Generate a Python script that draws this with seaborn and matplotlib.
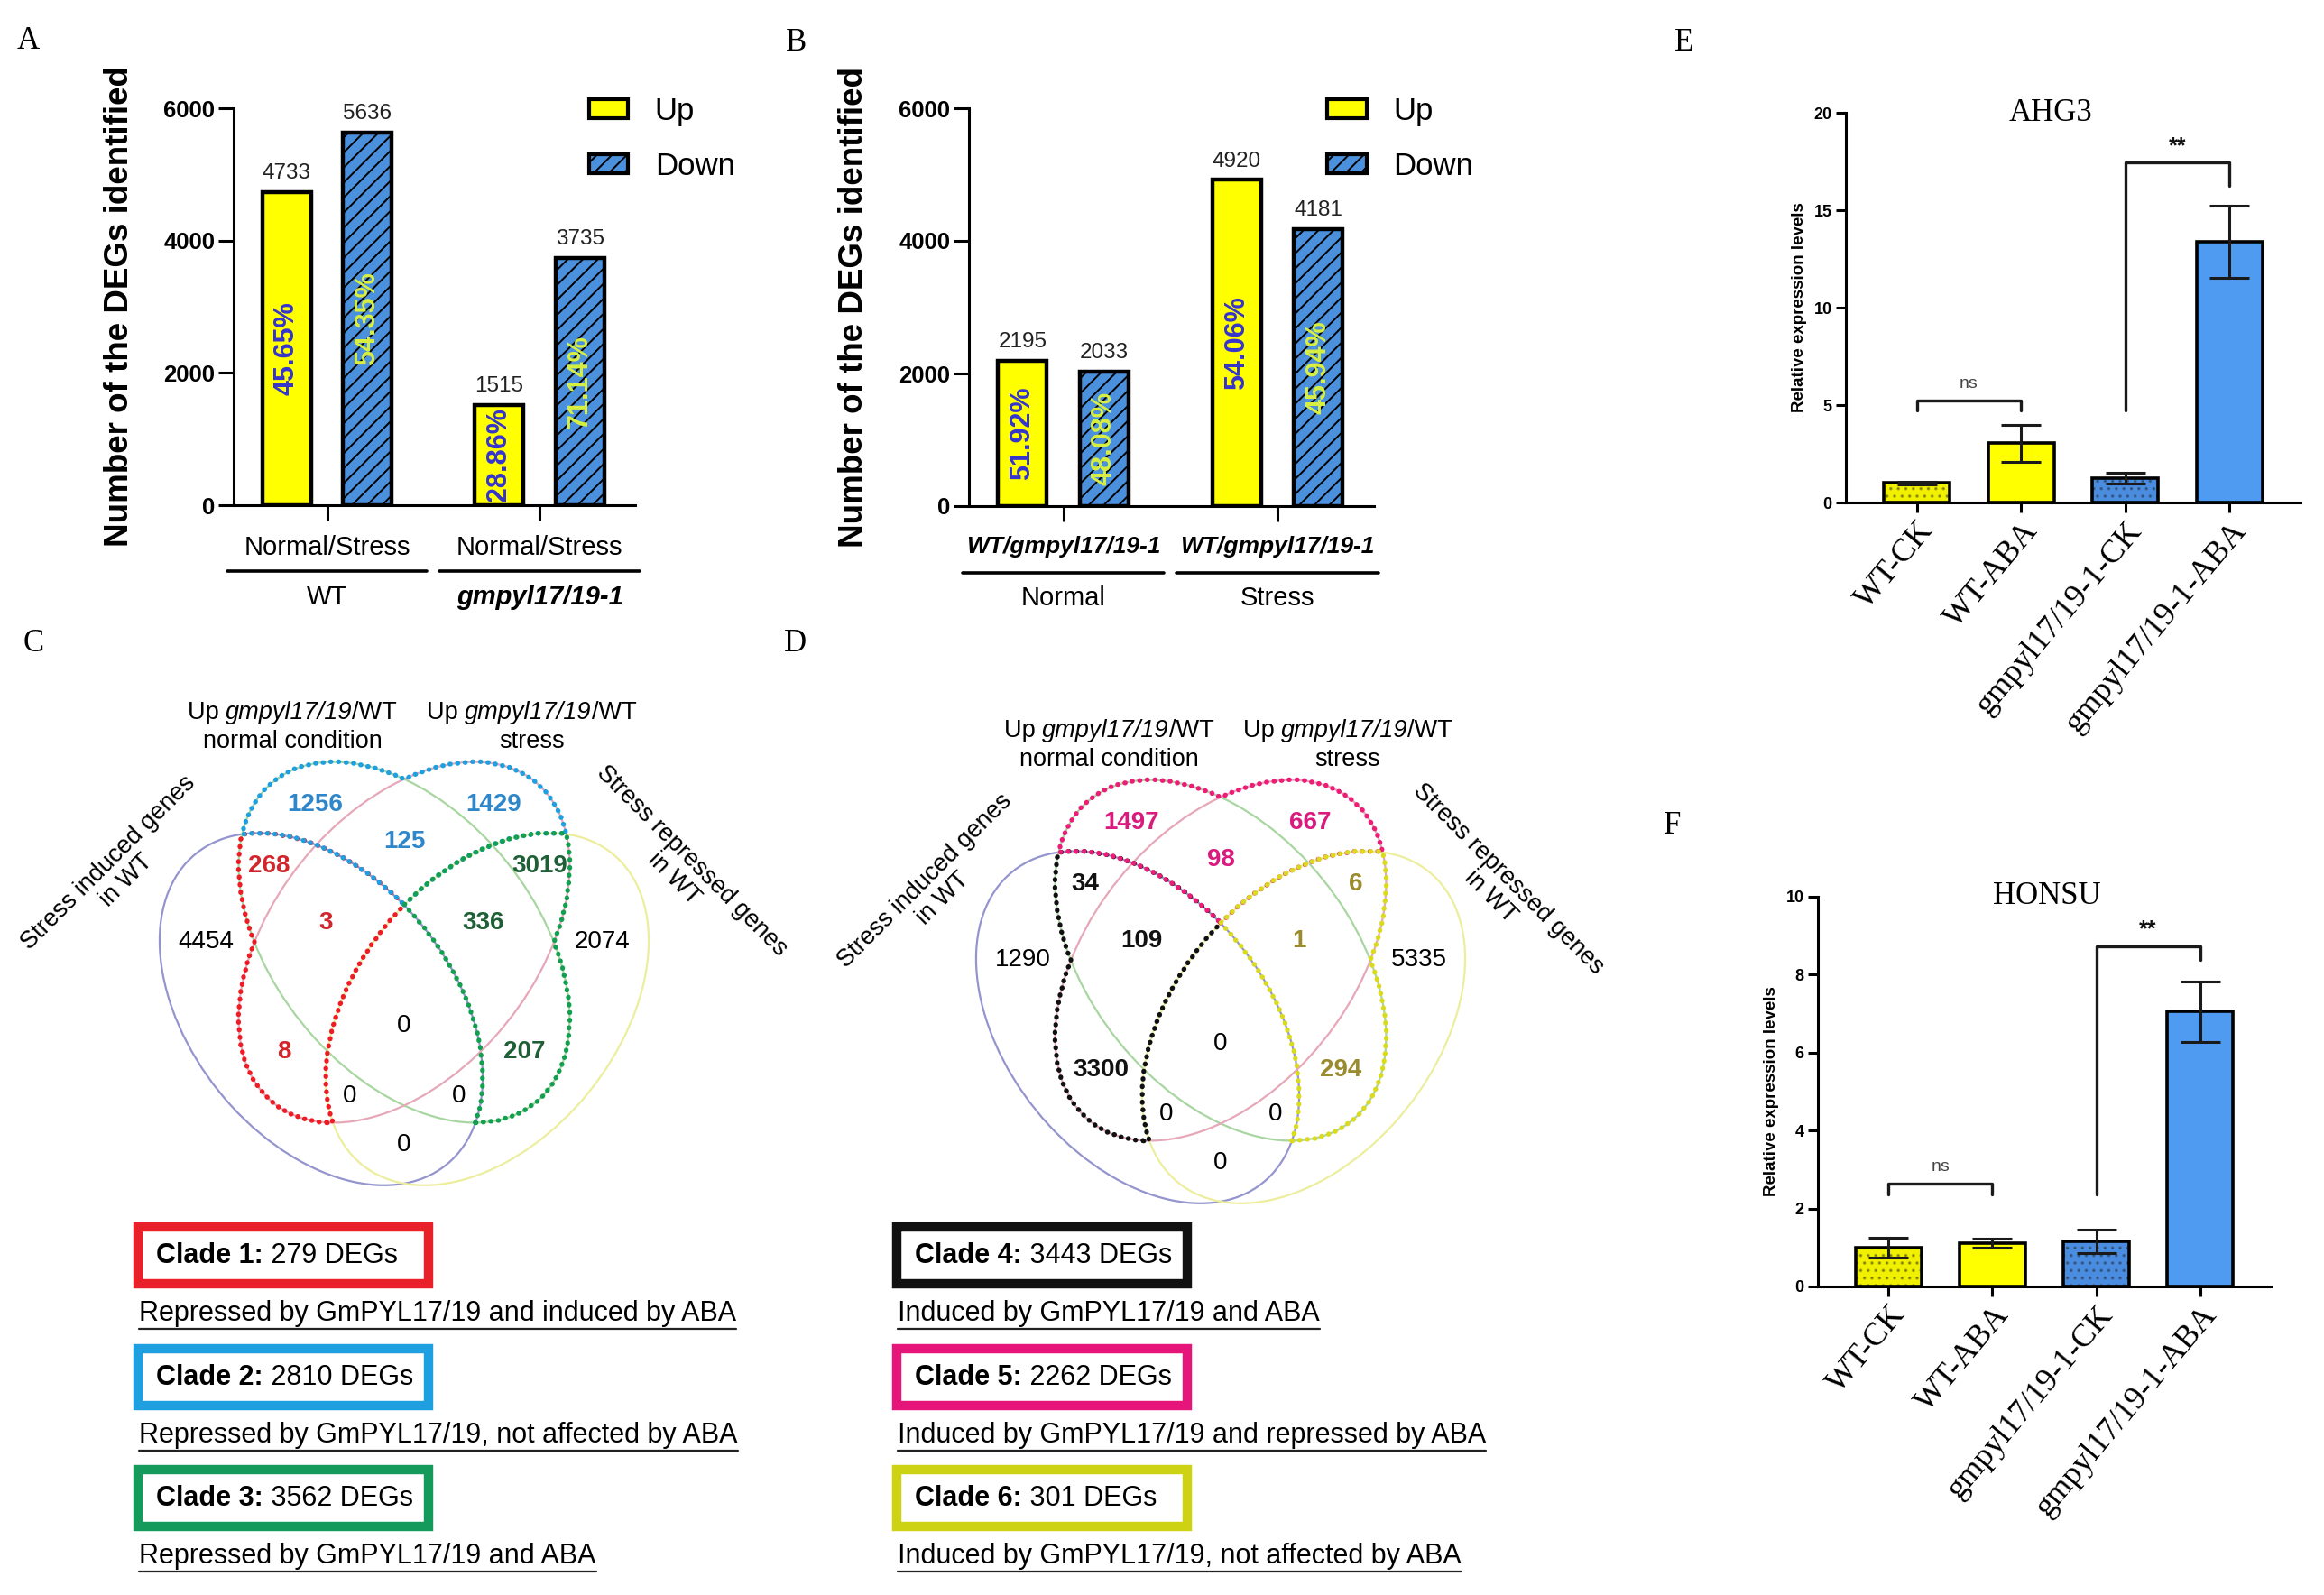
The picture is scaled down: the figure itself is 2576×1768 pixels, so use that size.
import numpy as np
import pandas as pd
import seaborn as sns
import matplotlib.pyplot as plt
from matplotlib.patches import Ellipse, Patch, Rectangle
from matplotlib.lines import Line2D

sns.set_theme(style="white", rc={"axes.edgecolor": "black", "axes.linewidth": 2.2,
                                  "xtick.color": "black", "ytick.color": "black",
                                  "text.color": "black", "axes.labelcolor": "black",
                                  "hatch.linewidth": 1.4})
plt.rcParams["font.family"] = ["Liberation Sans", "DejaVu Sans"]
SERIF = ["Liberation Serif", "DejaVu Serif"]

# ---- panels A / B : number of DEGs ----
directions = ["Up", "Down"]
genotypes = ["WT", "gmpyl17/19-1"]
geno_up = [4733, 1515]
geno_down = [5636, 3735]
treatments = ["Normal", "Stress"]
treat_up = [2195, 4920]
treat_down = [2033, 4181]

# ---- panels E / F : qRT-PCR ----
samples = ["WT-CK", "WT-ABA", "gmpyl17/19-1-CK", "gmpyl17/19-1-ABA"]
ahg3_mean = [1.0, 3.05, 1.25, 13.4]
ahg3_sd = [0.07, 0.95, 0.28, 1.85]
honsu_mean = [1.0, 1.11, 1.15, 7.05]
honsu_sd = [0.25, 0.12, 0.30, 0.78]
# label, left bar, right bar, bracket top, left leg end, right leg end
ahg3_sig = [("ns", 0, 1, 5.25, 4.7, 4.7), ("**", 2, 3, 17.45, 4.7, 16.25)]
honsu_sig = [("ns", 0, 1, 2.65, 2.35, 2.35), ("**", 2, 3, 8.73, 2.35, 8.39)]

# ---- panels C / D : four-set Venn ----
side_labels = ["Stress induced genes\nin WT", "Stress repressed genes\nin WT"]
top_labels = [[("Up ", "normal"), ("gmpyl17/19", "italic"), ("/WT", "normal")],
              "normal condition", "stress"]
regions = ["A", "B", "C", "D", "AB", "BC", "CD", "AD", "AC", "BD",
           "ABC", "BCD", "ACD", "ABD", "ABCD"]
venn_c = [4454, 1256, 1429, 2074, 268, 125, 3019, 0, 8, 207, 3, 336, 0, 0, 0]
venn_d = [1290, 1497, 667, 5335, 34, 98, 6, 0, 3300, 294, 109, 1, 0, 0, 0]
clade_regions = [["AB", "ABC", "AC"], ["B", "BC", "C"], ["CD", "BCD", "BD"]]
clade_names_c = ["Clade 1", "Clade 2", "Clade 3"]
clade_names_d = ["Clade 4", "Clade 5", "Clade 6"]
clade_notes_c = ["Repressed by GmPYL17/19 and induced by ABA",
                 "Repressed by GmPYL17/19, not affected by ABA",
                 "Repressed by GmPYL17/19 and ABA"]
clade_notes_d = ["Induced by GmPYL17/19 and ABA",
                 "Induced by GmPYL17/19 and repressed by ABA",
                 "Induced by GmPYL17/19, not affected by ABA"]

UP_C, DOWN_C = "#FFFF00", "#4A90DC"
dir_palette = {"Up": UP_C, "Down": DOWN_C}
qpcr_palette = dict(zip(samples, ["#F0F000", "#FFFF00", "#4A8DE0", "#4F9BF2"]))
qpcr_hatch = ["..", "", "..", ""]
box_cols_c = ["#E8202A", "#1E9FE0", "#149A5B"]
box_cols_d = ["#111111", "#E5157A", "#CDD212"]
line_cols_c = ["#EE1C24", "#1EA0E0", "#12A050"]
line_cols_d = ["#111111", "#EC1C77", "#DADA1E"]
num_cols_c = ["#D0262C", "#2F86C8", "#1F5F36"]
num_cols_d = ["#111111", "#D81B7C", "#9A8B2E"]

W, H = 2576, 1768
fig = plt.figure(figsize=(W / 100, H / 100), dpi=100)
renderer = fig.canvas.get_renderer()


def rect(l, t, r, b):
    return [l / W, 1 - b / H, (r - l) / W, (b - t) / H]


def deg_panel(ax, groups, up, down, tick_text, tick_kw, group_kw):
    df = pd.DataFrame({"group": groups + groups,
                       "direction": ["Up"] * len(groups) + ["Down"] * len(groups),
                       "count": up + down})
    sns.barplot(data=df, x="group", y="count", hue="direction", hue_order=directions,
                order=groups, palette=dir_palette, width=0.76, gap=0.4, saturation=1,
                edgecolor="black", linewidth=3.2, legend=False, ax=ax)
    up_bars, down_bars = ax.containers
    for p in down_bars:
        p.set_hatch("//")
    ax.bar_label(up_bars, fmt="%d", padding=7, fontsize=17.5, color="#222222")
    ax.bar_label(down_bars, fmt="%d", padding=7, fontsize=17.5, color="#222222")
    tot = np.add(up, down)
    for bars, vals, col in [(up_bars, up, "#3434D0"), (down_bars, down, "#D8F040")]:
        for bar, v, t in zip(bars, vals, tot):
            ax.text(bar.get_x() + bar.get_width() / 2, v / 2, f"{100 * v / t:.2f}%",
                    rotation=90, ha="center", va="center", fontsize=22,
                    fontweight="bold", color=col)
    ax.set_ylim(0, 6000)
    ax.set_yticks([0, 2000, 4000, 6000])
    ax.set_xlim(-0.44, 1.45)
    sns.despine(ax=ax)
    ax.tick_params(axis="both", bottom=True, left=True, length=12, width=2.2, pad=3)
    ax.tick_params(axis="x", pad=12)
    for lab in ax.get_yticklabels():
        lab.set_fontsize(18.5)
        lab.set_fontweight("bold")
    ax.set_xticks(range(len(groups)))
    ax.set_xticklabels([tick_text] * len(groups), **tick_kw)
    ax.set_xlabel("")
    ax.set_ylabel("Number of the DEGs identified", fontsize=26.5, fontweight="bold")
    ax.yaxis.set_label_coords(-0.245, 0.5)
    trans = ax.get_xaxis_transform()
    for i, g in enumerate(groups):
        ax.plot([i - 0.47, i + 0.47], [-0.167, -0.167], transform=trans,
                color="black", lw=2.6, clip_on=False)
        ax.text(i, -0.232, g, transform=trans, ha="center", va="center",
                fontsize=21, **group_kw.get(g, {}))
    handles = [Patch(facecolor=UP_C, edgecolor="black", linewidth=3),
               Patch(facecolor=DOWN_C, edgecolor="black", linewidth=3, hatch="//")]
    ax.legend(handles, directions, loc="upper left", bbox_to_anchor=(0.885, 1.03),
              frameon=False, fontsize=25, handlelength=1.25, handleheight=0.55,
              labelspacing=0.8, handletextpad=0.85, borderaxespad=0, borderpad=0)


def qpcr_panel(ax, title, mean, sd, ymax, ystep, sig, title_x):
    df = pd.DataFrame({"sample": samples, "level": mean})
    sns.barplot(data=df, x="sample", y="level", hue="sample", palette=qpcr_palette,
                width=0.63, saturation=1, edgecolor="black", linewidth=2.6,
                legend=False, ax=ax)
    for bar, h in zip(ax.patches, qpcr_hatch):
        if h:
            bar.set_hatch(h)
            bar._hatch_color = (0.1, 0.1, 0.1, 0.35)
    ax.errorbar(range(len(samples)), mean, yerr=sd, fmt="none", ecolor="#1a1a1a",
                elinewidth=2.2, capsize=16, capthick=2.2, zorder=4)
    for lab, x0, x1, top, l0, l1 in sig:
        ax.plot([x0, x0, x1, x1], [l0, top, top, l1], color="#1a1a1a", lw=2.4)
        ax.text((x0 + x1) / 2, top + 0.042 * ymax, lab, ha="center", va="center",
                fontsize=14 if lab == "ns" else 18,
                color="#444444" if lab == "ns" else "#111111",
                fontweight="normal" if lab == "ns" else "bold")
    ax.set_ylim(0, ymax)
    ax.set_yticks(np.arange(0, ymax + 0.01, ystep))
    ax.set_xlim(-0.68, 3.68)
    sns.despine(ax=ax)
    ax.tick_params(axis="both", bottom=True, left=True, length=8, width=2.2, pad=3)
    for lab in ax.get_yticklabels():
        lab.set_fontsize(13)
        lab.set_fontweight("bold")
    ax.set_xticks(range(len(samples)))
    ax.set_xticklabels(samples, rotation=50, ha="right", rotation_mode="anchor",
                       fontsize=26, family=SERIF)
    ax.set_xlabel("")
    ax.set_ylabel("Relative expression levels", fontsize=13.5, fontweight="bold")
    ax.yaxis.set_label_coords(-0.085, 0.5)
    ax.text(title_x, 1.0, title, transform=ax.transAxes, ha="center", va="center",
            fontsize=25, family=SERIF)


# Venn geometry: pixels around the crossing of the inner ellipses, y up and
# shrunk by the vertical stretch of the figure
ELLIPSES = [(-92, -68, 211, 140, 135), (0, 0, 219, 139, 135),
            (0, 0, 219, 139, 45), (92, -68, 211, 140, 45)]
ELL_COLORS = ["#9494CE", "#A8D6A0", "#E6A8B8", "#EDED9E"]
SIDE_POS = [(-318, 72, 45), (309, 74, -45)]
TOP_POS = [(-124, 219), (141, 219)]


def inside(X, Y):
    res = []
    for cx, cy, a, b, ang in ELLIPSES:
        t = np.deg2rad(ang)
        dx, dy = X - cx, Y - cy
        u = dx * np.cos(t) + dy * np.sin(t)
        v = -dx * np.sin(t) + dy * np.cos(t)
        res.append((u / a) ** 2 + (v / b) ** 2 < 1)
    return res


def region_mask(code, ins):
    m = np.ones_like(ins[0])
    for k, letter in enumerate("ABCD"):
        m &= ins[k] if letter in code else ~ins[k]
    return m


gx_f = np.arange(-320, 320.5, 0.8)
gy_f = np.arange(-380, 300.5, 0.8)
fine_in = inside(*np.meshgrid(gx_f, gy_f))
gx_c = np.arange(-320, 321, 2.5)
gy_c = np.arange(-380, 301, 2.5)
coarse_in = inside(*np.meshgrid(gx_c, gy_c))


def interior(mask):
    m = mask.copy()
    last = m
    while m.any():
        last = m
        m = m & np.roll(m, 1, 0) & np.roll(m, -1, 0) & np.roll(m, 1, 1) & np.roll(m, -1, 1)
    iy, ix = np.nonzero(last)
    return gx_c[ix].mean(), gy_c[iy].mean()


def text_width_pt(txt, **kw):
    # advance width of txt, trailing spaces included
    a = fig.text(0, 0, txt + "x", **kw)
    b = fig.text(0, 0, "x", **kw)
    w = a.get_window_extent(renderer).width - b.get_window_extent(renderer).width
    a.remove()
    b.remove()
    return w * 72 / fig.dpi


def mixed_line(ax, x, y, parts, dy, fs):
    widths = [text_width_pt(t, fontsize=fs, fontstyle=s) for t, s in parts]
    off = -sum(widths) / 2
    for (t, s), w in zip(parts, widths):
        ax.annotate(t, (x, y), xytext=(off, dy), textcoords="offset points",
                    ha="left", va="center", fontsize=fs, fontstyle=s)
        off += w


def venn_panel(ax, counts, line_cols, num_cols):
    ax.set_xlim(-310, 310)
    ax.set_ylim(-366.5, 288.5)
    ax.axis("off")
    for (cx, cy, a, b, ang), col in zip(ELLIPSES, ELL_COLORS):
        ax.add_patch(Ellipse((cx, cy), 2 * a, 2 * b, angle=ang, fill=False, ec=col, lw=1.6))
    colour_of = {}
    for k, regs in enumerate(clade_regions):
        union = np.zeros_like(fine_in[0])
        for r in regs:
            union |= region_mask(r, fine_in)
            colour_of[r] = num_cols[k]
        cs = ax.contour(gx_f, gy_f, union.astype(float), levels=[0.5],
                        colors=[line_cols[k]], linewidths=3.8)
        cs.set_linestyle((0, (0.1, 1.55)))
        cs.set_capstyle("round")
    for r, n in zip(regions, counts):
        x, y = interior(region_mask(r, coarse_in))
        ax.text(x, y, str(n), ha="center", va="center", fontsize=20,
                color=colour_of.get(r, "black"),
                fontweight="bold" if r in colour_of else "normal")
    for lab, (x, y, rot) in zip(side_labels, SIDE_POS):
        ax.text(x, y, lab, ha="center", va="center", rotation=rot, fontsize=19.5,
                multialignment="center", linespacing=1.1)
    for (x, y), second in zip(TOP_POS, top_labels[1:]):
        mixed_line(ax, x, y, top_labels[0], 11, 19.5)
        ax.annotate(second, (x, y), xytext=(0, -11.5), textcoords="offset points",
                    ha="center", va="center", fontsize=19.5)


ax_a = fig.add_axes(rect(259, 120, 704, 560))
ax_b = fig.add_axes(rect(1074, 120, 1523, 561))
ax_e = fig.add_axes(rect(2046, 125, 2550, 557))
ax_f = fig.add_axes(rect(2015, 994, 2517, 1426))
ax_c = fig.add_axes(rect(138, 730, 758, 1444))
ax_d = fig.add_axes(rect(1043, 750, 1663, 1464))

deg_panel(ax_a, genotypes, geno_up, geno_down, "Normal/Stress", {"fontsize": 21},
          {"gmpyl17/19-1": {"fontweight": "bold", "fontstyle": "italic"}})
deg_panel(ax_b, treatments, treat_up, treat_down, "WT/gmpyl17/19-1",
          {"fontsize": 19, "fontweight": "bold", "fontstyle": "italic"}, {})

qpcr_panel(ax_e, "AHG3", ahg3_mean, ahg3_sd, 20, 5, ahg3_sig, 0.45)
qpcr_panel(ax_f, "HONSU", honsu_mean, honsu_sd, 10, 2, honsu_sig, 0.505)

venn_panel(ax_c, venn_c, line_cols_c, num_cols_c)
venn_panel(ax_d, venn_d, line_cols_d, num_cols_d)

# panel letters
for letter, (px, py) in zip("ABCDEF", [(31, 45), (883, 47), (37, 714), (882, 714),
                                      (1867, 48), (1854, 915)]):
    fig.text(px / W, 1 - py / H, letter, ha="center", va="center", fontsize=25,
             family=SERIF)

# clade legends
box_tops = [1360, 1495, 1629]


def clade_legend(x0, names, counts_src, notes, cols):
    for k, (name, note, col, top) in enumerate(zip(names, notes, cols, box_tops)):
        size = sum(counts_src[regions.index(r)] for r in clade_regions[k])
        fig.add_artist(Rectangle((x0 / W, 1 - (top + 63) / H), 322 / W, 63 / H,
                                 transform=fig.transFigure, fill=False, ec=col, lw=7.5))
        head = fig.text((x0 + 20) / W, 1 - (top + 32) / H, name + ":", ha="left",
                        va="center", fontsize=22, fontweight="bold")
        hb = head.get_window_extent(renderer)
        fig.text(hb.x1 / W, 1 - (top + 32) / H, f" {size} DEGs", ha="left",
                 va="center", fontsize=22)
        t = fig.text((x0 + 1) / W, 1 - (top + 96) / H, note, ha="left", va="center",
                     fontsize=22)
        bb = t.get_window_extent(renderer)
        fig.add_artist(Line2D([bb.x0 / W, bb.x1 / W], [1 - (top + 113) / H] * 2,
                              transform=fig.transFigure, color="#222222", lw=1.6))


clade_legend(153, clade_names_c, venn_c, clade_notes_c, box_cols_c)
clade_legend(994, clade_names_d, venn_d, clade_notes_d, box_cols_d)

fig.savefig("out.png", dpi=100)
